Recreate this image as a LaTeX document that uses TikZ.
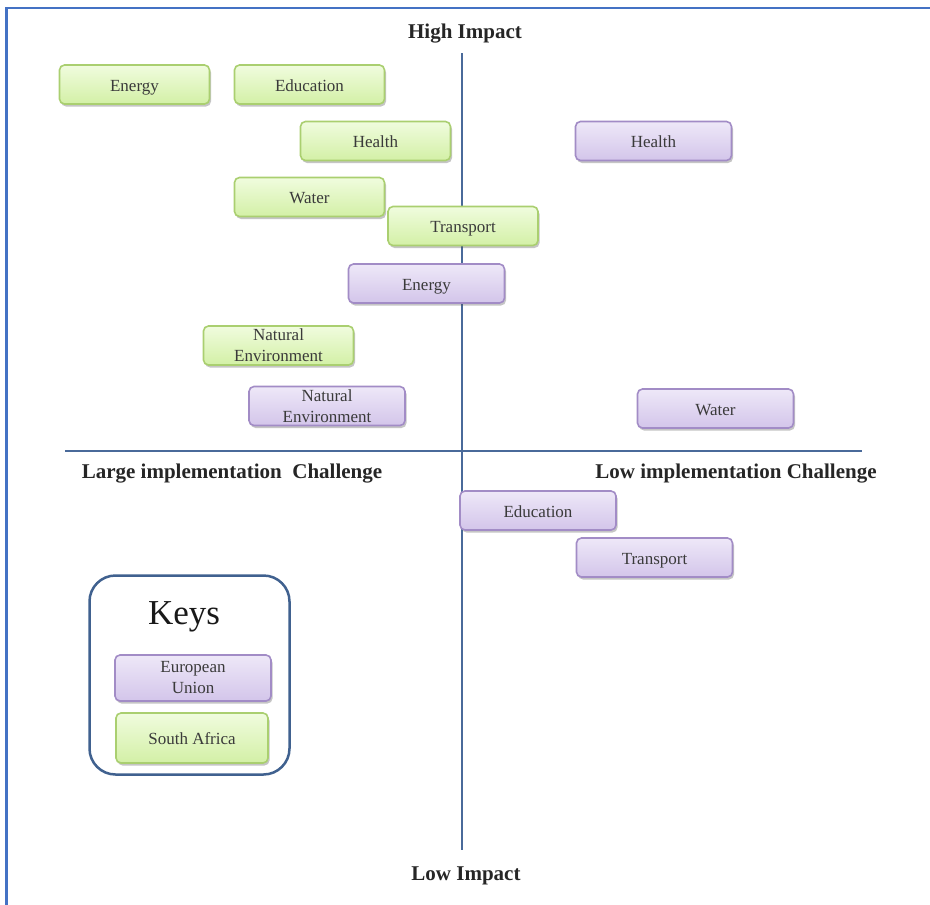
\documentclass[tikz,border=0pt]{standalone}
\usepackage{fontspec}
\setmainfont{Liberation Serif}
\usetikzlibrary{shadows}

\definecolor{framecol}{HTML}{4472C4}
\definecolor{axiscol}{HTML}{4A6A9A}
\definecolor{keycol}{HTML}{40618F}
\definecolor{sagreenT}{HTML}{F0FCDE}
\definecolor{sagreenB}{HTML}{D3F0A6}
\definecolor{sagreenD}{HTML}{AACF70}
\definecolor{eupurT}{HTML}{EEE8F8}
\definecolor{eupurB}{HTML}{D3C5EA}
\definecolor{eupurD}{HTML}{A28CC6}
\definecolor{boxtext}{HTML}{3A3A3A}

\tikzset{
  cell/.style={rounded corners=5pt, line width=1.6pt, minimum height=39pt,
    inner sep=0pt, text=boxtext, align=center,
    font=\fontsize{17}{21}\selectfont,
    drop shadow={shadow xshift=1.5pt, shadow yshift=-2.5pt, opacity=0.32, fill=black!70}},
  oneline/.style={text height=14pt, text depth=0.8pt},
  sa/.style={cell, draw=sagreenD, top color=sagreenT, bottom color=sagreenB, minimum width=150pt},
  eu/.style={cell, draw=eupurD, top color=eupurT, bottom color=eupurB, minimum width=156pt},
  axislabel/.style={font=\bfseries\fontsize{21}{24}\selectfont, text=black!85, inner sep=0pt},
  axisline/.style={draw=axiscol, line width=2pt}
}

\begin{document}
\begin{tikzpicture}[x=1pt, y=-1pt]
  \useasboundingbox (0,0) rectangle (930,905);
  \fill[white] (0,0) rectangle (930,905);

  % outer frame (top and left edges)
  \coordinate (fbl) at (6.5,905);
  \coordinate (ftl) at (6.5,8);
  \coordinate (ftr) at (930,8);
  \draw[framecol, line width=2.5pt] (fbl) -- (ftl) -- (ftr);

  % quadrant axes
  \coordinate (ytop) at (462,53);
  \coordinate (ybot) at (462,850);
  \coordinate (xleft) at (65,451);
  \coordinate (xright) at (862,451);
  \draw[axisline] (ytop) -- (ybot);
  \draw[axisline] (xleft) -- (xright);

  % axis labels
  \node[axislabel] (hi) at (465,34) {High Impact};
  \node[axislabel] (lo) at (466,876) {Low Impact};
  \node[axislabel] (large) at (232,474) {Large implementation\ \ Challenge};
  \node[axislabel] (low) at (736,474) {Low implementation Challenge};

  % South Africa
  \node[sa, oneline] (saEnergy)    at (134.5,84.5) {Energy};
  \node[sa, oneline] (saEducation) at (309.5,84.5) {Education};
  \node[sa, oneline] (saHealth)    at (375.5,141)  {Health};
  \node[sa, oneline] (saWater)     at (309.5,197)  {Water};
  \node[sa, oneline] (saTransport) at (463,226)    {Transport};
  \node[sa] (saNature)    at (278.5,345.5) {Natural\\Environment};

  % European Union
  \node[eu, oneline] (euHealth)    at (653.5,141)  {Health};
  \node[eu, oneline] (euEnergy)    at (426.5,283.5) {Energy};
  \node[eu] (euNature)    at (327,406)    {Natural\\Environment};
  \node[eu, oneline] (euWater)     at (715.5,408.5) {Water};
  \node[eu, oneline] (euEducation) at (538,510.5)  {Education};
  \node[eu, oneline] (euTransport) at (654.5,557.5) {Transport};

  % legend
  \node[draw=keycol, line width=2.5pt, rounded corners=26pt,
        minimum width=200pt, minimum height=199pt, inner sep=0pt] (keys) at (189.5,675) {};
  \node[font=\fontsize{35}{40}\selectfont, text=black!90, inner sep=0pt] (keystitle) at (184,617) {Keys};
  \node[eu, minimum height=46pt] (keyEU) at (193,678) {European\\Union};
  \node[sa, oneline, minimum width=152pt, minimum height=50pt] (keySA) at (192,738) {South Africa};
\end{tikzpicture}
\end{document}
